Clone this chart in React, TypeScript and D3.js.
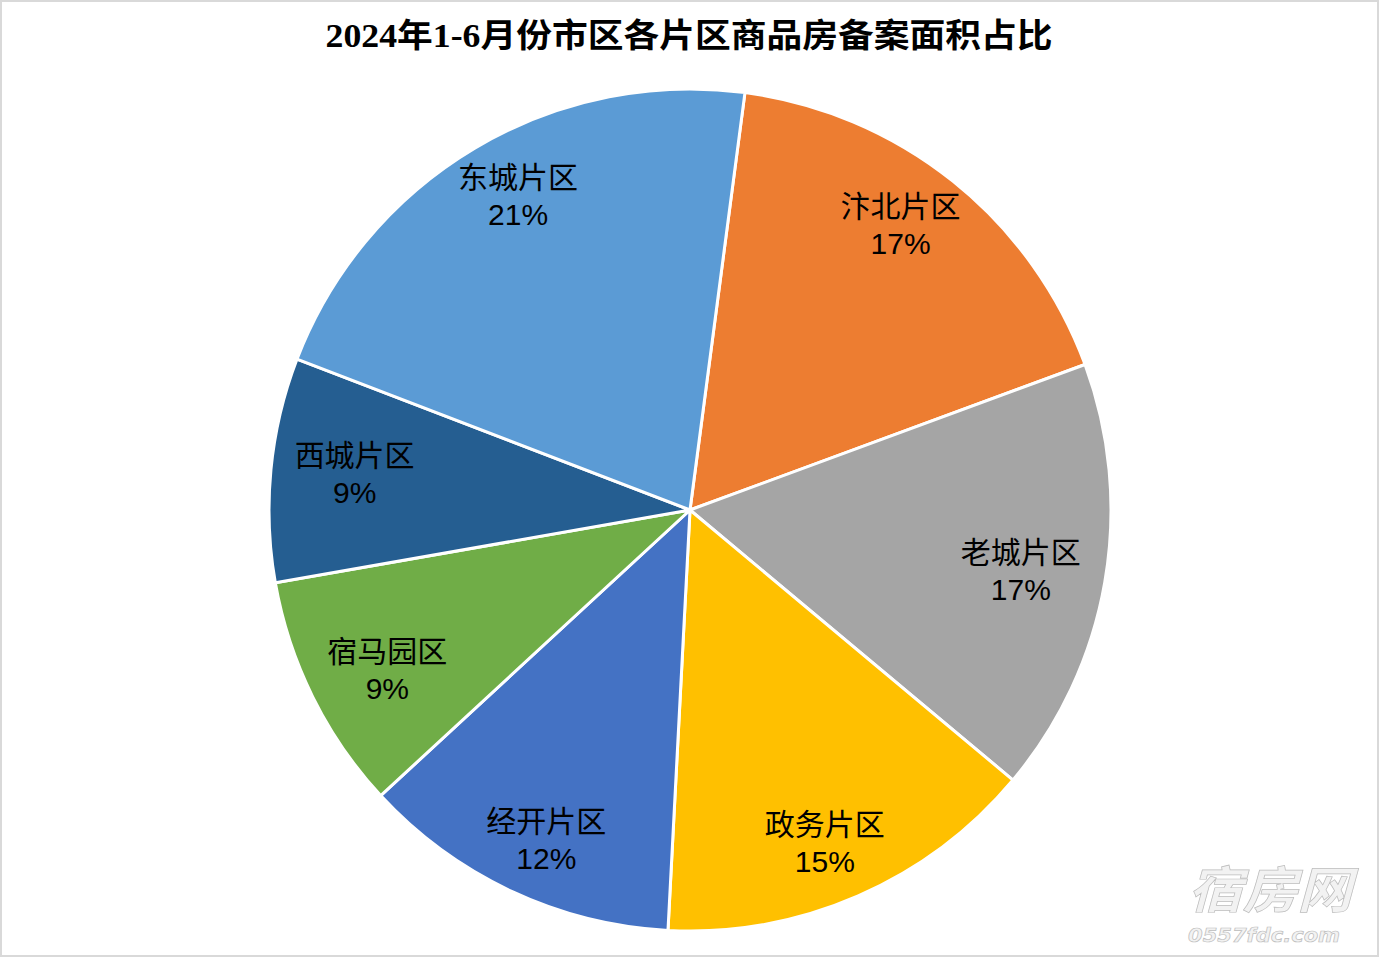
import React from "react";
import * as d3 from "d3";

const categories = ["汴北片区", "老城片区", "政务片区", "经开片区", "宿马园区", "西城片区", "东城片区"];
const values = [17.3, 16.7, 14.75, 12.3, 9.1, 8.6, 21.25];
const colors = ["#ED7D31", "#A5A5A5", "#FFC000", "#4472C4", "#70AD47", "#255E91", "#5B9BD5"];
const title = "2024年1-6月份市区各片区商品房备案面积占比";

// label nudges (layout only), same order as categories
const labelNudge: [number, number][] = [
  [-8, -12],
  [-14, 1],
  [-5, 12],
  [5, 13],
  [11, 5],
  [13, -2],
  [7, -13],
];

const W = 1379;
const H = 957;
const cx = 690;
const cy = 510;
const R = 421;
const startDeg = 7.5;

export default function App() {
  const total = d3.sum(values);
  const pie = d3
    .pie<number>()
    .sort(null)
    .value((d) => d)
    .startAngle((startDeg * Math.PI) / 180)
    .endAngle(((startDeg + 360) * Math.PI) / 180);
  const arcs = pie(values);
  const arcGen = d3.arc<d3.PieArcDatum<number>>().innerRadius(0).outerRadius(R);
  const labelArc = d3.arc<d3.PieArcDatum<number>>().innerRadius(350).outerRadius(350);
  const labelFont = "'Liberation Sans', Arial, 'Noto Sans CJK SC', sans-serif";

  return (
    <div style={{ position: "fixed", left: 0, top: 0 }}>
      <svg width={W} height={H} style={{ display: "block", background: "#fff" }}>
        <rect x={1} y={1} width={W - 2} height={H - 2} fill="#fff" stroke="#d9d9d9" strokeWidth={2} />
        <text
          x={689}
          y={47}
          textAnchor="middle"
          fontFamily="'Liberation Serif', 'Times New Roman', 'Noto Sans CJK SC', serif"
          fontWeight="bold"
          fontSize={33}
          textLength={727}
          lengthAdjust="spacingAndGlyphs"
          fill="#000"
        >
          {title}
        </text>
        <g transform={`translate(${cx},${cy})`}>
          {arcs.map((a, i) => (
            <path key={i} d={arcGen(a) || ""} fill={colors[i]} stroke="#fff" strokeWidth={3} strokeLinejoin="round" />
          ))}
          {arcs.map((a, i) => {
            const [x0, y0] = labelArc.centroid(a);
            const x = x0 + labelNudge[i][0];
            const y = y0 + labelNudge[i][1];
            const pct = Math.round((values[i] / total) * 100);
            return (
              <text key={"t" + i} textAnchor="middle" fontFamily={labelFont} fontSize={30} fill="#000">
                <tspan x={x} y={y - 8}>{categories[i]}</tspan>
                <tspan x={x} y={y + 29}>{pct + "%"}</tspan>
              </text>
            );
          })}
        </g>
        <g fill="#f2f2f2" stroke="#bdbdbd" strokeWidth={0.7} fontStyle="italic">
          <text x={1270} y={908} textAnchor="middle" fontFamily="'Noto Sans CJK SC', sans-serif" fontSize={50} fontWeight="bold" textLength={164} lengthAdjust="spacingAndGlyphs">
            宿房网
          </text>
          <text x={1264} y={942} textAnchor="middle" fontFamily="'DejaVu Sans', sans-serif" fontSize={20} fontWeight="bold" textLength={152} lengthAdjust="spacingAndGlyphs">
            0557fdc.com
          </text>
        </g>
      </svg>
    </div>
  );
}
